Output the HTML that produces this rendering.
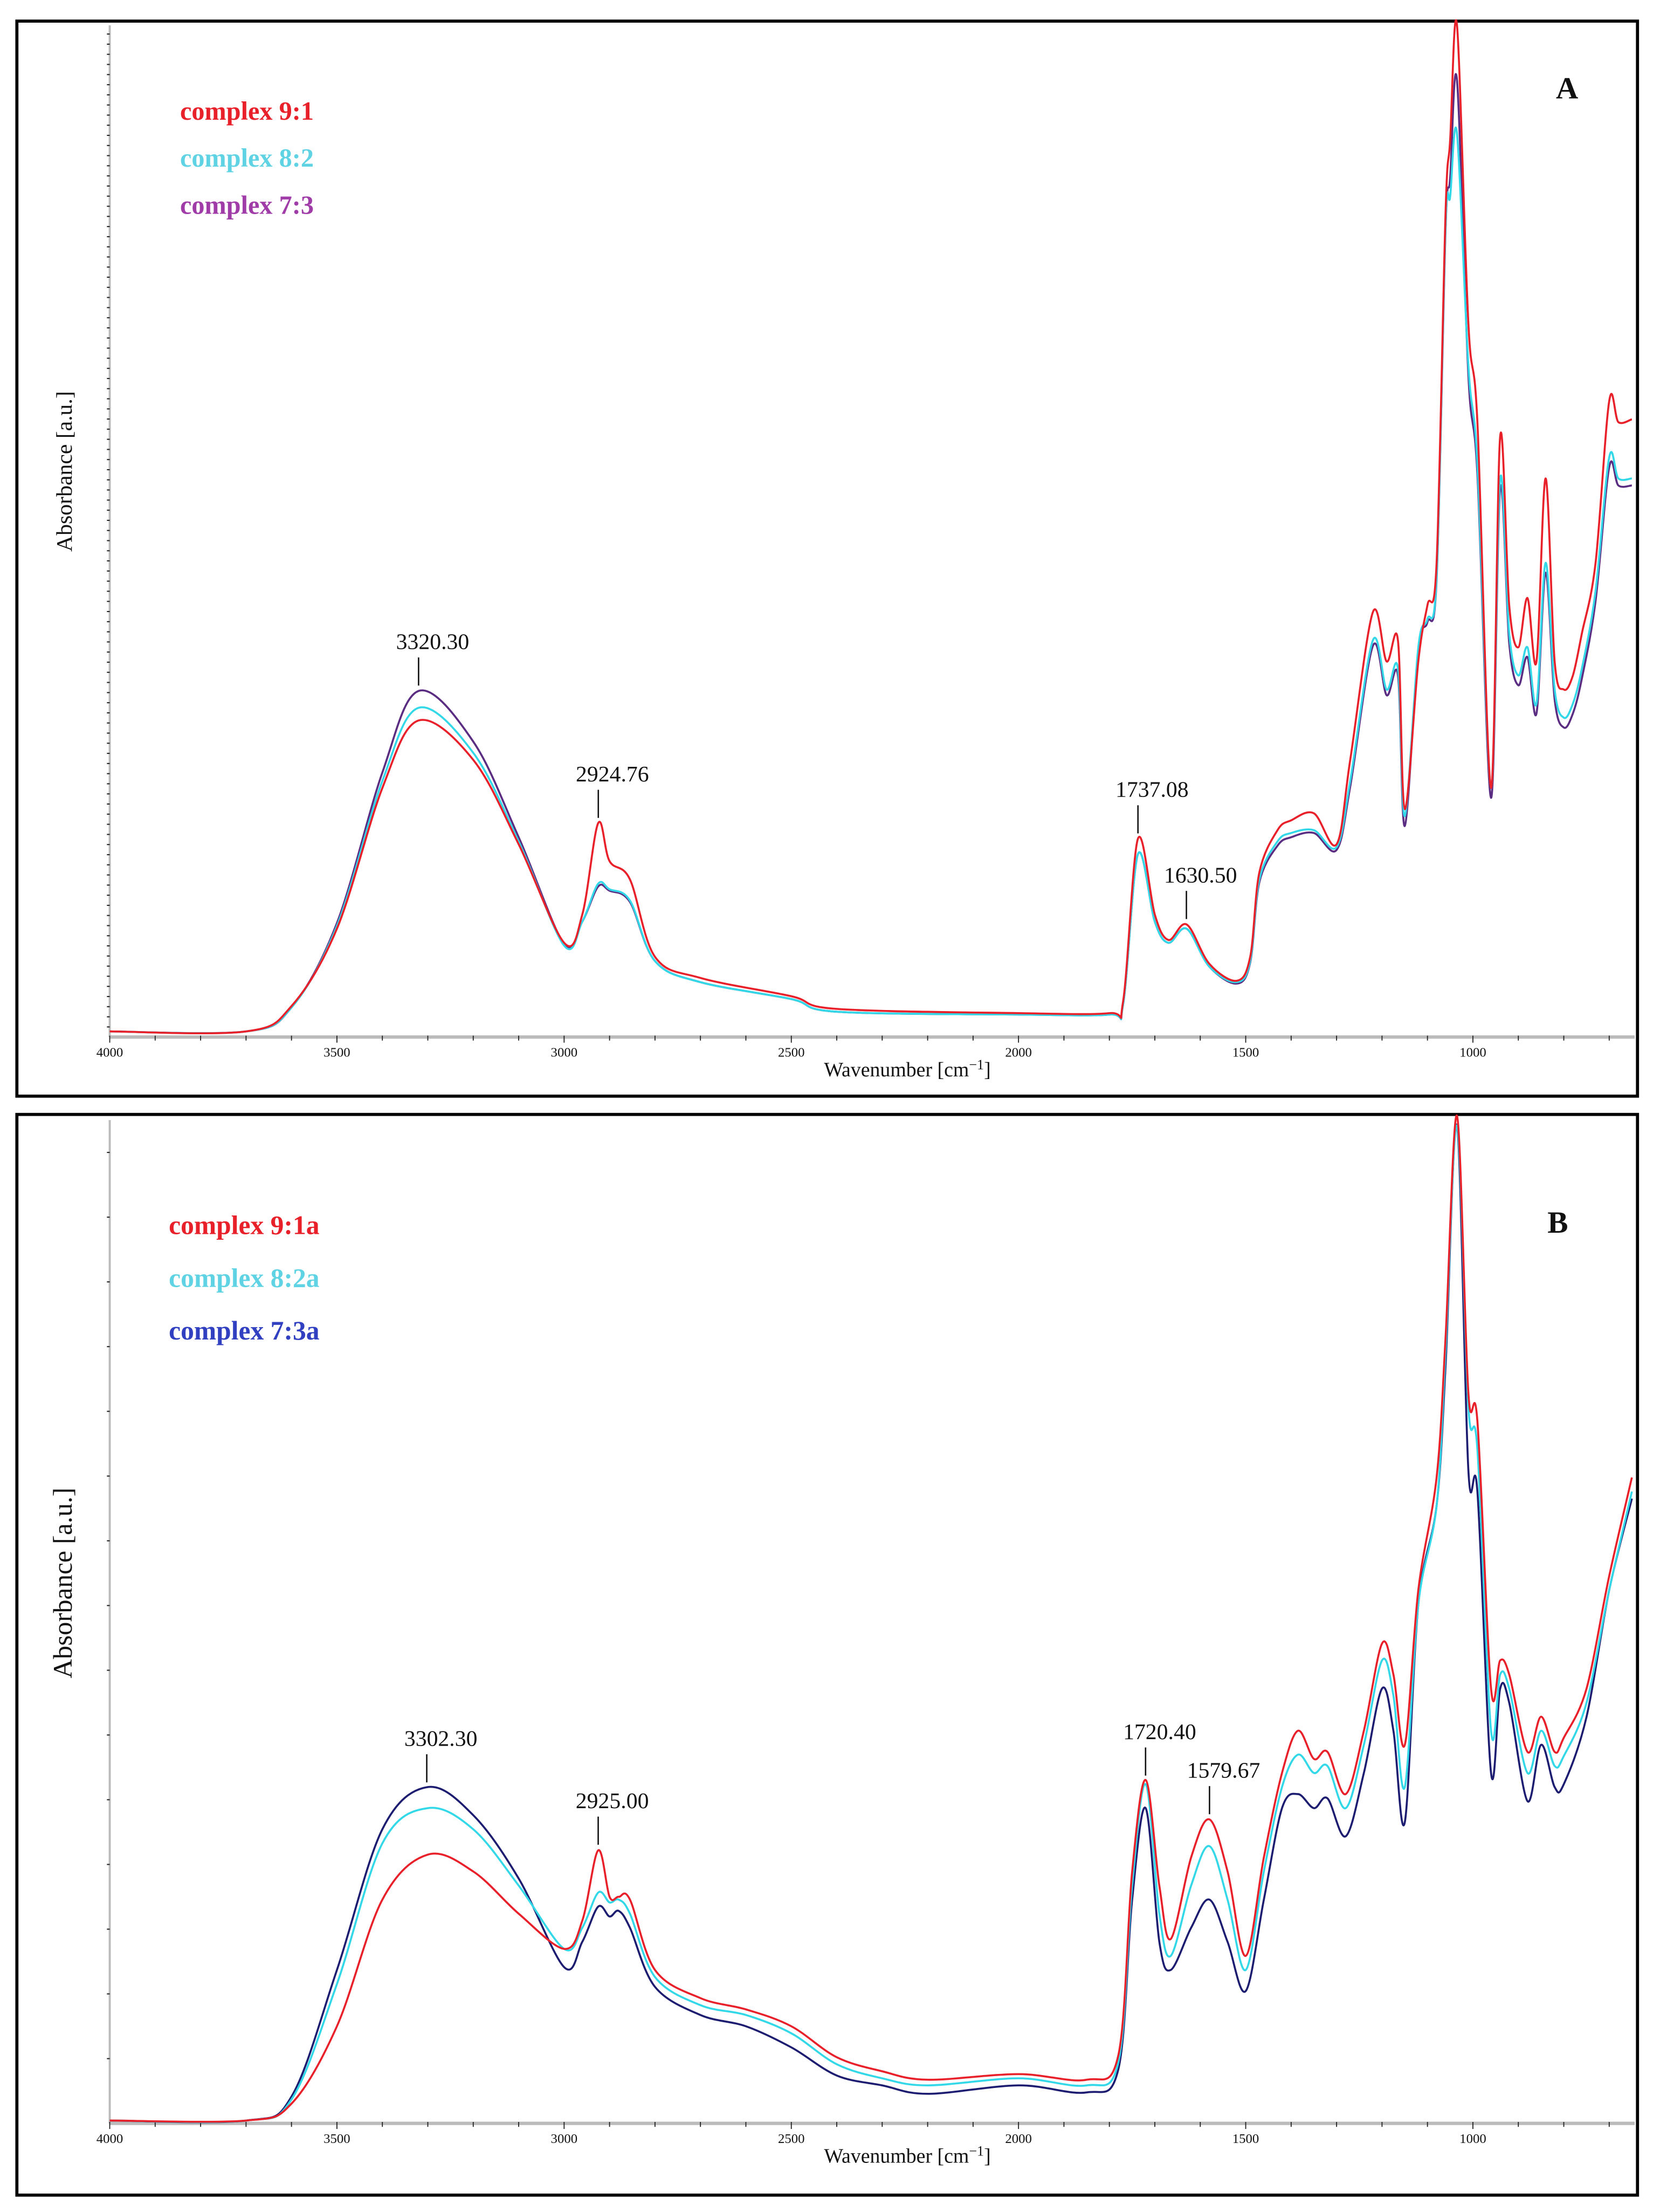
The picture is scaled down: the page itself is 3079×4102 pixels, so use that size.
<!DOCTYPE html>
<html><head><meta charset="utf-8"><style>
html,body{margin:0;padding:0;background:#fff;}
svg{display:block;}
text{font-family:"Liberation Serif",serif;}
</style></head><body>
<svg id="chart" width="3079" height="4102" viewBox="0 0 1180 1572" preserveAspectRatio="none" xmlns="http://www.w3.org/2000/svg">
<rect x="0" y="0" width="1180" height="1572" fill="#fff"/>
<rect x="12" y="15" width="1152" height="764" fill="none" stroke="#000" stroke-width="2.2"/>
<rect x="12" y="792" width="1152" height="768" fill="none" stroke="#000" stroke-width="2.2"/>
<g id="gA"></g>
<g id="gB"></g>
</svg>
<script>
const wnA=[4000,3700,3600,3500,3400,3320,3200,3100,3000,2960,2925,2900,2855,2800,2700,2500,2400,2000,1800,1770,1737,1700,1670,1630,1580,1520,1490,1470,1430,1400,1350,1300,1270,1220,1190,1165,1150,1120,1100,1080,1060,1050,1035,1010,990,960,940,920,900,880,860,840,820,800,780,760,730,700,680,650];
const a91=[4,4,22,77,177,225,197,137,67,87,152,125,112,57,42,29,20,17,17,25,141,87,69,80,52,40,57,117,147,154,159,137,197,302,267,282,162,267,307,337,587,637,719,507,437,177,427,307,277,312,267,397,267,247,257,287,337,452,437,439];
const a82=[4,4,21,79,182,234,202,139,65,82,109,105,97,54,39,27,18,16,16,23,130,82,67,77,50,39,54,112,139,145,147,135,182,282,247,262,157,277,297,327,577,597,642,477,407,177,397,287,257,277,237,337,247,227,237,262,317,412,397,397];
const a73=[4,4,21,81,188,246,210,142,66,82,107,104,96,54,39,27,18,16,16,23,130,82,67,77,50,38,53,110,136,142,145,133,178,278,243,257,150,275,295,325,575,610,680,470,400,170,390,280,250,270,230,330,240,220,230,255,310,405,392,392];
const wnB=[4000,3700,3600,3500,3400,3300,3200,3100,3000,2960,2925,2900,2880,2855,2800,2700,2600,2500,2400,2300,2200,2000,1850,1780,1750,1720,1690,1665,1620,1580,1540,1500,1460,1420,1385,1350,1320,1280,1240,1200,1175,1150,1120,1080,1060,1035,1010,990,960,940,920,880,850,820,800,750,700,650];
const b91=[2,2,14,69,159,191,179,149,124,144,194,161,161,159,109,89,81,69,47,37,31,35,31,49,179,244,169,131,189,216,179,119,189,249,279,259,264,234,279,341,319,269,379,459,559,716,519,499,309,329,319,264,289,264,274,309,389,459];
const b82=[2,2,17,99,199,224,209,169,124,139,164,157,159,149,104,84,77,64,42,32,27,32,27,44,169,241,149,119,169,197,159,109,179,239,262,249,254,224,269,329,304,239,369,439,549,709,509,479,279,319,309,249,279,254,261,299,379,449];
const b73=[2,2,19,109,209,239,219,174,111,129,154,147,151,139,97,77,69,54,34,27,21,27,22,39,159,224,129,109,139,159,129,94,159,224,234,224,231,204,249,309,279,214,369,439,539,709,464,449,249,309,299,229,269,239,241,289,379,444];
const xTicks=[4000,3500,3000,2500,2000,1500,1000];
const peaksA=[3320.30,2924.76,1737.08,1630.50];
const peaksB=[3302.30,2925.00,1720.40,1579.67];
const NS="http://www.w3.org/2000/svg";
function mk(p,tag,at){const e=document.createElementNS(NS,tag);for(const k in at)e.setAttribute(k,at[k]);p.appendChild(e);return e;}
function xs(w){return 78+(4000-w)*0.323;}
function interp(wn,v,w){for(let i=0;i<wn.length-1;i++){if(w<=wn[i]&&w>=wn[i+1]){const t=(wn[i]-w)/(wn[i]-wn[i+1]);return v[i]+t*(v[i+1]-v[i]);}}return v[v.length-1];}
function pathFor(wn,v,ys){const P=wn.map((w,i)=>[xs(w),ys(v[i])]);let d="M"+P[0][0].toFixed(1)+","+P[0][1].toFixed(1);
 for(let i=0;i<P.length-1;i++){const p0=P[Math.max(0,i-1)],p1=P[i],p2=P[i+1],p3=P[Math.min(P.length-1,i+2)];
 const c1=[p1[0]+(p2[0]-p0[0])/6,p1[1]+(p2[1]-p0[1])/6],c2=[p2[0]-(p3[0]-p1[0])/6,p2[1]-(p3[1]-p1[1])/6];
 d+=" C"+c1[0].toFixed(1)+","+c1[1].toFixed(1)+" "+c2[0].toFixed(1)+","+c2[1].toFixed(1)+" "+p2[0].toFixed(1)+","+p2[1].toFixed(1);}return d;}
function panel(g,base,top,yTickStep,series,wn,peaks,peakSeries,peakOff,legend,legX,legY,legGap,legSize,letter,letX,letY,ylabY,ylabSize){
 const ys=v=>base-v;
 const ya=mk(g,'line',{x1:78,y1:top,x2:78,y2:base,stroke:'#bbb','stroke-width':1.5});
 
 
 for(let y=base-yTickStep;y>top;y-=yTickStep){mk(g,'line',{x1:76,y1:y,x2:78,y2:y,stroke:'#222','stroke-width':0.8});}
 const xa=mk(g,'line',{x1:78,y1:base,x2:1162,y2:base,stroke:'#bbb','stroke-width':2.4});
 
 
 for(let w=4000;w>=700;w-=100){const big=w%500===0;mk(g,'line',{x1:xs(w),y1:base-1,x2:xs(w),y2:base+(big?4:2.5),stroke:'#222','stroke-width':0.7});}
 xTicks.forEach(w=>{const t=mk(g,'text',{x:xs(w),y:base+14,'font-family':'Liberation Sans Narrow, Liberation Sans, sans-serif','font-size':9.5,'text-anchor':'middle',fill:'#111'});t.textContent=w;
  
  });
 const xl=mk(g,'text',{x:645,y:base+28,'font-size':14.5,'text-anchor':'middle',fill:'#111'});
 xl.innerHTML='Wavenumber [cm<tspan font-size="10" dy="-5">−1</tspan><tspan dy="5">]</tspan>';
 
 
 const yl=mk(g,'text',{x:0,y:0,'font-size':ylabSize,'text-anchor':'middle',fill:'#111',transform:'translate(51,'+ylabY+') rotate(-90)'});
 yl.textContent='Absorbance [a.u.]';
 
 
 series.forEach(s=>{const p=mk(g,'path',{d:pathFor(wn,s.v,ys),fill:'none',stroke:s.c,'stroke-width':1.4,'stroke-linejoin':'round'});
  
  });
 peaks.forEach((w,i)=>{const v=interp(wn,peakSeries[i],w);const x=xs(w),y=ys(v)-4;
  const ln=mk(g,'line',{x1:x,y1:y,x2:x,y2:y-peakOff,stroke:'#111','stroke-width':1});
  
  
  const t=mk(g,'text',{x:x+10,y:y-peakOff-6,'font-size':16,'text-anchor':'middle',fill:'#111'});t.textContent=w.toFixed(2);
  
  });
 legend.forEach((l,i)=>{const t=mk(g,'text',{x:legX,y:legY+i*legGap,'font-size':legSize,'font-weight':'bold',fill:l.c});t.textContent=l.t;
  
  });
 const L=mk(g,'text',{x:letX,y:letY,'font-size':22,'font-weight':'bold',fill:'#111'});L.textContent=letter;
 
 
}
const red='#e8202a',cyan='#33d8e8',pur='#5a2c82',navy='#1c1c70';
panel(document.getElementById('gA'),737,18,7.2,
 [{v:a73,c:pur,n:'series-7-3'},{v:a82,c:cyan,n:'series-8-2'},{v:a91,c:red,n:'series-9-1'}],wnA,peaksA,[a73,a91,a91,a91],20,
 [{t:'complex 9:1',c:'#e8202a'},{t:'complex 8:2',c:'#5fd3e3'},{t:'complex 7:3',c:'#a03ca8'}],128,85,33.5,18.5,'A',1106,70,335,16);
panel(document.getElementById('gB'),1509,796,46,
 [{v:b73,c:navy,n:'series-7-3a'},{v:b82,c:cyan,n:'series-8-2a'},{v:b91,c:red,n:'series-9-1a'}],wnB,peaksB,[b73,b91,b91,b91],20,
 [{t:'complex 9:1a',c:'#e8202a'},{t:'complex 8:2a',c:'#5fd3e3'},{t:'complex 7:3a',c:'#3040c0'}],120,877,37.5,19,'B',1100,876,1125,19);
</script>
</body></html>
